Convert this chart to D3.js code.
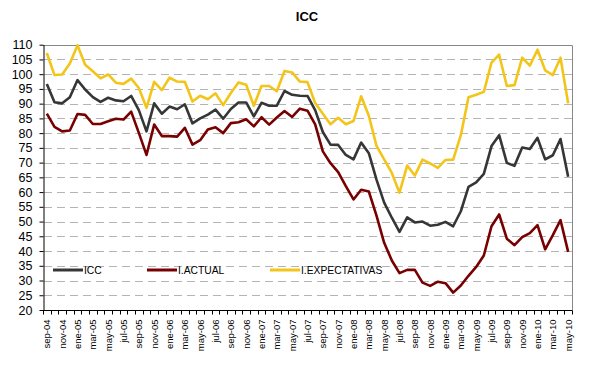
<!DOCTYPE html>
<html lang="es">
<head>
  <meta charset="UTF-8">
  <title>ICC</title>
  <script src="https://cdn.jsdelivr.net/npm/d3@7"></script>
  <style>
    body { margin: 0; background: #fff; }
    svg { font-family: "Liberation Sans", Arial, sans-serif; }
  </style>
</head>
<body>
<div id="chart"></div>
<script>
  // meses (sep-04 .. may-10)
  const months = [
    'sep-04','oct-04','nov-04','dic-04',
    'ene-05','feb-05','mar-05','abr-05','may-05','jun-05','jul-05','ago-05','sep-05','oct-05','nov-05','dic-05',
    'ene-06','feb-06','mar-06','abr-06','may-06','jun-06','jul-06','ago-06','sep-06','oct-06','nov-06','dic-06',
    'ene-07','feb-07','mar-07','abr-07','may-07','jun-07','jul-07','ago-07','sep-07','oct-07','nov-07','dic-07',
    'ene-08','feb-08','mar-08','abr-08','may-08','jun-08','jul-08','ago-08','sep-08','oct-08','nov-08','dic-08',
    'ene-09','feb-09','mar-09','abr-09','may-09','jun-09','jul-09','ago-09','sep-09','oct-09','nov-09','dic-09',
    'ene-10','feb-10','mar-10','abr-10','may-10'
  ];

  const icc = [
    96.7, 90.5, 90.1, 92.2, 98.0, 94.8, 92.2, 90.6, 92.0, 91.1, 90.8, 92.6, 87.8, 80.6, 90.1, 86.6,
    89.0, 88.1, 89.8, 83.3, 85.0, 86.3, 88.0, 84.9, 88.2, 90.4, 90.4, 85.7, 90.3, 89.3, 89.3, 94.3,
    93.0, 92.7, 92.6, 87.8, 80.4, 76.1, 76.0, 72.6, 71.1, 76.8, 73.2, 64.2, 56.4, 51.3, 46.5, 51.4,
    49.7, 50.0, 48.6, 48.9, 49.9, 48.4, 53.5, 61.8, 63.3, 66.2, 75.6, 79.3, 69.9, 68.9, 75.1, 74.6,
    78.4, 71.1, 72.5, 78.0, 65.2
  ];

  const actual = [
    86.6, 82.1, 80.6, 80.9, 86.5, 86.2, 83.1, 83.1, 84.0, 84.9, 84.6, 87.3, 80.1, 72.6, 82.9, 79.0,
    79.0, 78.8, 81.8, 76.1, 77.6, 81.2, 82.0, 80.0, 83.4, 83.7, 84.7, 82.3, 85.4, 82.9, 85.3, 87.5,
    85.5, 88.3, 87.6, 83.0, 73.8, 69.8, 66.8, 62.0, 57.5, 60.8, 60.2, 52.0, 42.8, 36.8, 32.5, 33.6,
    33.6, 29.3, 28.2, 29.6, 29.1, 25.9, 28.3, 31.6, 34.6, 38.5, 48.4, 52.4, 44.2, 42.0, 44.7, 46.1,
    48.8, 40.6, 45.4, 50.5, 39.7
  ];

  const expectativas = [
    107.2, 99.7, 99.9, 103.6, 109.8, 103.2, 101.0, 98.6, 99.9, 97.1, 96.7, 98.5, 95.3, 88.6, 97.4, 94.6,
    98.8, 97.5, 97.4, 90.7, 92.7, 91.5, 93.5, 89.5, 93.6, 97.2, 96.4, 89.3, 96.0, 96.0, 94.2, 101.1,
    100.6, 97.5, 97.3, 90.2, 86.6, 83.0, 85.2, 83.0, 84.1, 92.5, 85.9, 75.7, 71.1, 66.5, 59.8, 69.0,
    65.6, 71.0, 69.7, 68.2, 70.9, 71.0, 79.3, 92.2, 93.0, 94.0, 103.9, 106.6, 96.0, 96.3, 105.6, 102.9,
    108.3, 101.3, 99.7, 105.6, 90.1
  ];

  const yTicks = [20, 25, 30, 35, 40, 45, 50, 55, 60, 65, 70, 75, 80, 85, 90, 95, 100, 105, 110];

  const series = [
    { name: 'ICC', values: icc, color: '#363636' },
    { name: 'I.ACTUAL', values: actual, color: '#780000' },
    { name: 'I.EXPECTATIVAS', values: expectativas, color: '#f3c51a' }
  ];

  const width = 595, height = 375;
  const margin = { top: 44.7, right: 23, bottom: 65, left: 43 };

  const svg = d3.select('#chart').append('svg')
    .attr('width', width)
    .attr('height', height);

  const x = d3.scaleBand()
    .domain(months)
    .range([margin.left, width - margin.right])
    .padding(0);

  const y = d3.scaleLinear()
    .domain([20, 110])
    .range([height - margin.bottom, margin.top]);

  const cx = d => x(d) + x.bandwidth() / 2;

  // título
  svg.append('text')
    .attr('x', 307)
    .attr('y', 21)
    .attr('text-anchor', 'middle')
    .attr('font-size', 13)
    .attr('font-weight', 'bold')
    .text('ICC');

  // rejilla
  svg.append('g')
    .selectAll('line')
    .data(yTicks.filter(d => d > 20 && d < 110))
    .join('line')
    .attr('x1', margin.left + 1)
    .attr('x2', width - margin.right)
    .attr('y1', d => Math.round(y(d)) + 0.5)
    .attr('y2', d => Math.round(y(d)) + 0.5)
    .attr('stroke', '#b4b4b4')
    .attr('stroke-dasharray', '8,5');

  // borde superior y derecho
  svg.append('path')
    .attr('d', `M${margin.left},${Math.round(y(110)) + 0.5}H${width - margin.right + 0.5}V${y(20)}`)
    .attr('fill', 'none')
    .attr('stroke', '#878787');

  // eje y
  const yAxis = svg.append('g')
    .attr('transform', `translate(${margin.left + 0.5},0)`)
    .call(d3.axisLeft(y).tickValues(yTicks).tickSize(4).tickPadding(7).tickSizeOuter(0));
  yAxis.select('.domain').attr('stroke', '#000');
  yAxis.selectAll('.tick line').attr('stroke', '#000');
  yAxis.selectAll('text')
    .attr('font-size', 12.5)
    .attr('font-family', '"Liberation Sans", Arial, sans-serif')
    .attr('fill', '#000');

  // eje x
  const baseY = Math.round(y(20)) + 0.5;
  svg.append('line')
    .attr('x1', margin.left)
    .attr('x2', width - margin.right + 0.5)
    .attr('y1', baseY)
    .attr('y2', baseY)
    .attr('stroke', '#000');

  const bounds = months.map(d => x(d)).concat([x.range()[1]]);
  svg.append('g')
    .selectAll('line')
    .data(bounds)
    .join('line')
    .attr('x1', d => Math.round(d) + 0.5)
    .attr('x2', d => Math.round(d) + 0.5)
    .attr('y1', baseY)
    .attr('y2', baseY + 4)
    .attr('stroke', '#000');

  const xAxis = svg.append('g')
    .attr('transform', `translate(0,${baseY})`)
    .call(d3.axisBottom(x).tickValues(months.filter((d, i) => i % 2 === 0)).tickSize(0));
  xAxis.select('.domain').remove();
  xAxis.selectAll('text')
    .attr('font-size', 9.5)
    .attr('font-family', '"Liberation Sans", Arial, sans-serif')
    .attr('fill', '#000')
    .attr('text-anchor', 'end')
    .attr('dy', null)
    .attr('y', 0)
    .attr('transform', 'translate(3.5,9) rotate(-90)');

  // líneas
  const line = d3.line()
    .x((d, i) => cx(months[i]))
    .y(d => y(d));

  svg.append('g')
    .selectAll('path')
    .data(series)
    .join('path')
    .attr('d', d => line(d.values))
    .attr('fill', 'none')
    .attr('stroke', d => d.color)
    .attr('stroke-width', 2.6)
    .attr('stroke-linejoin', 'round');

  // leyenda
  const legendX = [53, 147, 270];
  const legend = svg.append('g')
    .selectAll('g')
    .data(series)
    .join('g')
    .attr('transform', (d, i) => `translate(${legendX[i]},270)`);
  legend.append('line')
    .attr('x1', 0)
    .attr('x2', 30)
    .attr('stroke', d => d.color)
    .attr('stroke-width', 3);
  legend.append('text')
    .attr('x', 31)
    .attr('y', 3.5)
    .attr('font-size', 10.3)
    .attr('fill', '#000')
    .text(d => d.name);
</script>
</body>
</html>
